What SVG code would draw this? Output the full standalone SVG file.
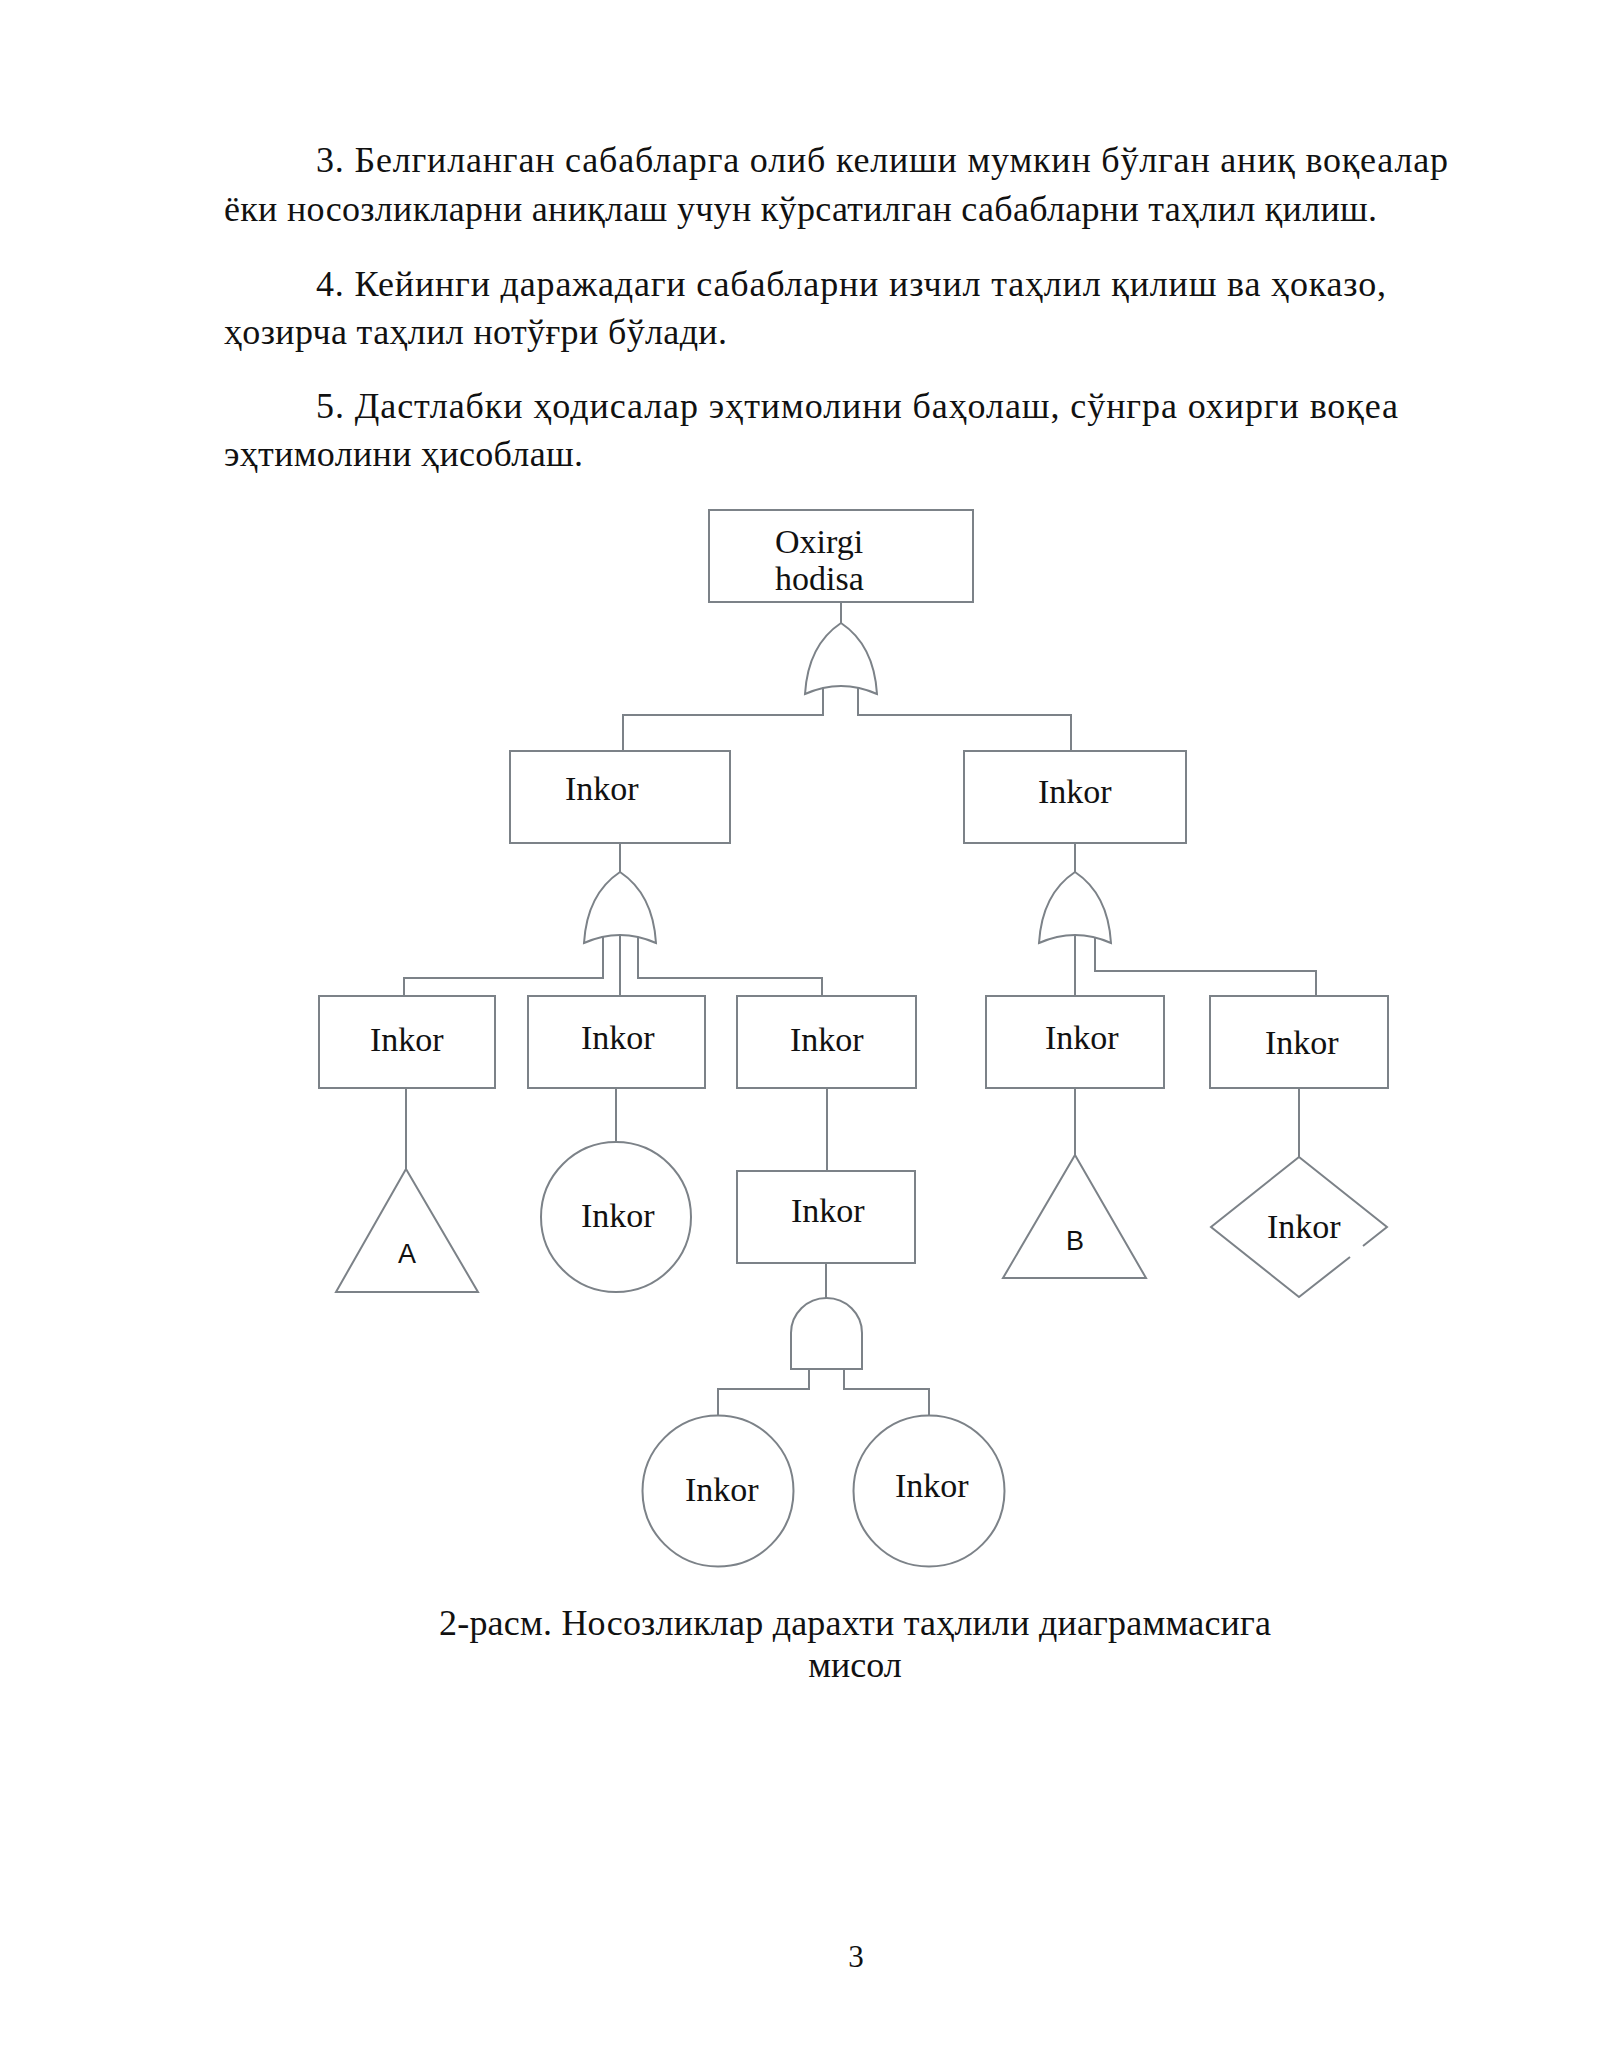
<svg xmlns="http://www.w3.org/2000/svg" xmlns:xlink="http://www.w3.org/1999/xlink" width="1600" height="2070" viewBox="0 0 1600 2070">
<style>
.body{font-family:"Liberation Serif","Times New Roman",serif;font-size:36px;fill:#111}
.lbl{font-family:"Liberation Serif","Times New Roman",serif;font-size:34px;fill:#111}
.sans{font-family:"Liberation Sans",Arial,sans-serif;font-size:27px;fill:#111}
.shape{fill:#fff;stroke:#7c8288;stroke-width:2}
.conn{fill:none;stroke:#7c8288;stroke-width:2}
</style>
<defs>
<path id="orgate" d="M0,0 Q-33,22 -36,71 Q0,55 36,71 Q33,22 0,0 Z"/>
</defs>
<rect x="0" y="0" width="1600" height="2070" fill="#fff"/>
<g id="paragraphs">
<text class="body" x="316" y="172" textLength="1132">3.  Белгиланган  сабабларга олиб келиши мумкин  бўлган аниқ воқеалар</text>
<text class="body" x="224" y="221" textLength="1153">ёки  носозликларни аниқлаш учун кўрсатилган сабабларни таҳлил қилиш.</text>
<text class="body" x="316" y="296" textLength="1070">4. Кейинги даражадаги сабабларни изчил таҳлил қилиш ва ҳоказо,</text>
<text class="body" x="224" y="344" textLength="503">ҳозирча  таҳлил нотўғри бўлади.</text>
<text class="body" x="316" y="418" textLength="1082">5.  Дастлабки  ҳодисалар  эҳтимолини баҳолаш, сўнгра охирги  воқеа</text>
<text class="body" x="224" y="466" textLength="359">эҳтимолини ҳисоблаш.</text>
</g>
<g id="connectors">
<path class="conn" d="M841,602 V623"/>
<path class="conn" d="M823,688 V715 H623 V751"/>
<path class="conn" d="M858,688 V715 H1071 V751"/>
<path class="conn" d="M620,843 V872"/>
<path class="conn" d="M1075,843 V872"/>
<path class="conn" d="M603,937 V978 H404 V996"/>
<path class="conn" d="M620,934 V996"/>
<path class="conn" d="M638,937 V978 H822 V996"/>
<path class="conn" d="M1075,934 V996"/>
<path class="conn" d="M1095,937 V971 H1316 V996"/>
<path class="conn" d="M406,1088 V1169"/>
<path class="conn" d="M616,1088 V1142"/>
<path class="conn" d="M827,1088 V1171"/>
<path class="conn" d="M1075,1088 V1155"/>
<path class="conn" d="M1299,1088 V1157"/>
<path class="conn" d="M826,1263 V1298"/>
<path class="conn" d="M809,1369 V1389 H718 V1416"/>
<path class="conn" d="M844,1369 V1389 H929 V1416"/>
</g>
<g id="top-event">
<rect class="shape" x="709" y="510" width="264" height="92"/>
<text class="lbl" x="775" y="553">Oxirgi</text>
<text class="lbl" x="775" y="590">hodisa</text>
</g>
<g id="gate-or-top"><use href="#orgate" class="shape" x="841" y="623"/></g>
<g id="inkor-l2-left">
<rect class="shape" x="510" y="751" width="220" height="92"/>
<text class="lbl" x="565" y="800">Inkor</text>
</g>
<g id="inkor-l2-right">
<rect class="shape" x="964" y="751" width="222" height="92"/>
<text class="lbl" x="1038" y="803">Inkor</text>
</g>
<g id="gate-or-left"><use href="#orgate" class="shape" x="620" y="872"/></g>
<g id="gate-or-right"><use href="#orgate" class="shape" x="1075" y="872"/></g>
<g id="inkor-l3-1">
<rect class="shape" x="319" y="996" width="176" height="92"/>
<text class="lbl" x="370" y="1051">Inkor</text>
</g>
<g id="inkor-l3-2">
<rect class="shape" x="528" y="996" width="177" height="92"/>
<text class="lbl" x="581" y="1049">Inkor</text>
</g>
<g id="inkor-l3-3">
<rect class="shape" x="737" y="996" width="179" height="92"/>
<text class="lbl" x="790" y="1051">Inkor</text>
</g>
<g id="inkor-l3-4">
<rect class="shape" x="986" y="996" width="178" height="92"/>
<text class="lbl" x="1045" y="1049">Inkor</text>
</g>
<g id="inkor-l3-5">
<rect class="shape" x="1210" y="996" width="178" height="92"/>
<text class="lbl" x="1265" y="1054">Inkor</text>
</g>
<g id="triangle-a">
<path class="shape" d="M406,1169 L478,1292 L336,1292 Z"/>
<text class="sans" x="407" y="1263" text-anchor="middle">A</text>
</g>
<g id="circle-1">
<circle class="shape" cx="616" cy="1217" r="75"/>
<text class="lbl" x="581" y="1227">Inkor</text>
</g>
<g id="inkor-l4">
<rect class="shape" x="737" y="1171" width="178" height="92"/>
<text class="lbl" x="791" y="1222">Inkor</text>
</g>
<g id="gate-and">
<path class="shape" d="M791,1369 V1333 A35.5,35 0 0 1 862,1333 V1369 Z"/>
</g>
<g id="triangle-b">
<path class="shape" d="M1075,1155 L1146,1278 L1003,1278 Z"/>
<text class="sans" x="1075" y="1250" text-anchor="middle">B</text>
</g>
<g id="diamond">
<path fill="#fff" stroke="none" d="M1299,1157 L1387,1227 L1299,1297 L1211,1227 Z"/>
<path class="conn" d="M1363,1246 L1387,1227 L1299,1157 L1211,1227 L1299,1297 L1350,1257"/>
<text class="lbl" x="1267" y="1238">Inkor</text>
</g>
<g id="circle-2">
<circle class="shape" cx="718" cy="1491" r="75.5"/>
<text class="lbl" x="685" y="1501">Inkor</text>
</g>
<g id="circle-3">
<circle class="shape" cx="929" cy="1491" r="75.5"/>
<text class="lbl" x="895" y="1497">Inkor</text>
</g>
<g id="caption">
<text class="body" x="855" y="1635" text-anchor="middle" textLength="832">2-расм. Носозликлар дарахти таҳлили диаграммасига</text>
<text class="body" x="855" y="1677" text-anchor="middle">мисол</text>
</g>
<text class="body" x="856" y="1967" text-anchor="middle" style="font-size:31px">3</text>
</svg>
